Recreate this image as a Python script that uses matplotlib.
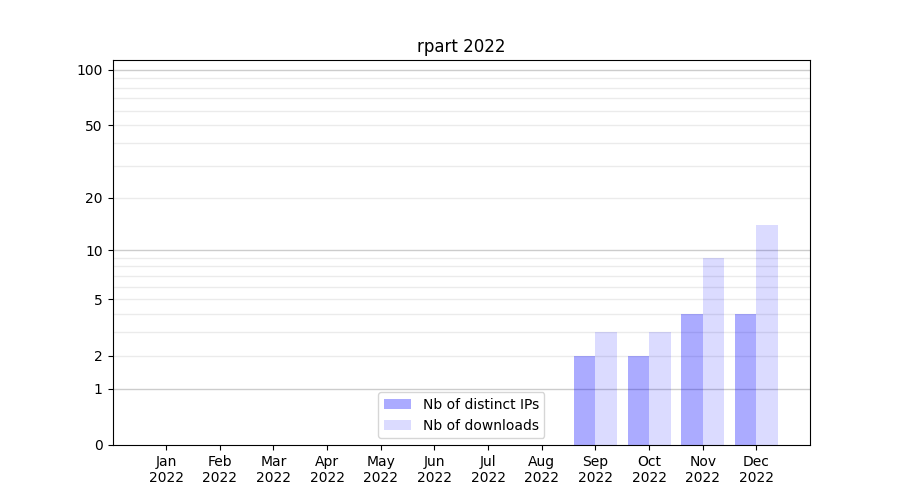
import numpy as np
import matplotlib
matplotlib.use('Agg')
import matplotlib.pyplot as plt

months = ['Jan\n2022', 'Feb\n2022', 'Mar\n2022', 'Apr\n2022', 'May\n2022', 'Jun\n2022',
          'Jul\n2022', 'Aug\n2022', 'Sep\n2022', 'Oct\n2022', 'Nov\n2022', 'Dec\n2022']
ips = [0, 0, 0, 0, 0, 0, 0, 0, 2, 2, 4, 4]
downloads = [0, 0, 0, 0, 0, 0, 0, 0, 3, 3, 9, 14]
yticks = [0, 1, 2, 5, 10, 20, 50, 100]
major_grid = [1, 10, 100]
minor_grid = [2, 3, 4, 5, 6, 7, 8, 9, 20, 30, 40, 50, 60, 70, 80, 90]

fig, ax = plt.subplots(figsize=(9, 5), dpi=100)
ax.set_yscale('function', functions=(lambda v: np.log10(1 + np.maximum(v, 0)),
                                     lambda v: 10 ** v - 1))
x = np.arange(len(months))
w = 0.4
ax.bar(x - w / 2, ips, w, color='blue', alpha=0.33, label='Nb of distinct IPs')
ax.bar(x + w / 2, downloads, w, color='blue', alpha=0.14, label='Nb of downloads')

for v in minor_grid:
    ax.axhline(v, color='#ebebeb', lw=1, zorder=0)
for v in major_grid:
    ax.axhline(v, color='#cccccc', lw=1, zorder=0)

ax.set_yticks(yticks)
ax.set_yticklabels([str(t) for t in yticks])
ax.yaxis.set_minor_locator(matplotlib.ticker.NullLocator())
ax.set_ylim(0, 113)
ax.set_xticks(x)
ax.set_xticklabels(months)
ax.set_xlim(-1, 12)
ax.set_title('rpart 2022')
ax.legend(loc='lower center')

plt.savefig('out.png', dpi=100)
